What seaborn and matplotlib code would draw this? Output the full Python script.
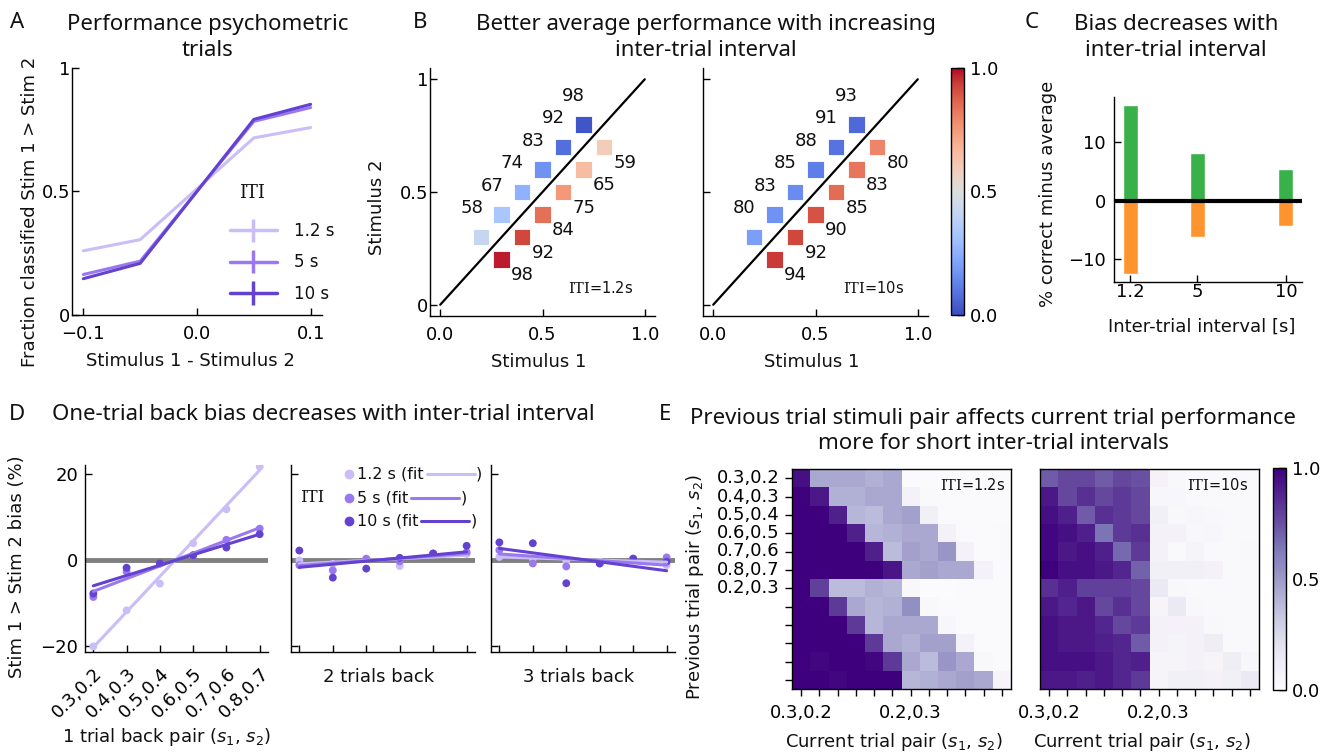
import numpy as np
import pandas as pd
import matplotlib
matplotlib.use("Agg")
import matplotlib.pyplot as plt
import seaborn as sns
from matplotlib.cm import ScalarMappable
from matplotlib.colors import Normalize
from matplotlib.lines import Line2D
from matplotlib.collections import LineCollection
from matplotlib.container import ErrorbarContainer
from matplotlib.legend_handler import HandlerErrorbar

W, H = 1322, 754

# ---------------- data ----------------
iti_names = ["1.2 s", "5 s", "10 s"]
iti_colors = ["#cbbdf7", "#9a78f0", "#6442d0"]

# Panel A: psychometric
psy_x = [-0.1, -0.05, 0.05, 0.1]
psy_12 = [0.260, 0.305, 0.717, 0.759]
psy_5 = [0.164, 0.218, 0.784, 0.840]
psy_10 = [0.147, 0.209, 0.792, 0.853]

# Panel B: stimulus pairs and % correct
stim1 = [0.2, 0.3, 0.4, 0.5, 0.6, 0.7, 0.3, 0.4, 0.5, 0.6, 0.7, 0.8]
stim2 = [0.3, 0.4, 0.5, 0.6, 0.7, 0.8, 0.2, 0.3, 0.4, 0.5, 0.6, 0.7]
pct_correct_12 = [58, 67, 74, 83, 92, 98, 98, 92, 84, 75, 65, 59]
pct_correct_10 = [80, 83, 85, 88, 91, 93, 94, 92, 90, 85, 83, 80]

# Panel C: bias
iti_values = [1.2, 5, 10]
bias_pos = [16.2, 8.1, 5.4]
bias_neg = [-12.4, -6.2, -4.35]

# Panel D: history bias
pair_labels = ["0.3,0.2", "0.4,0.3", "0.5,0.4", "0.6,0.5", "0.7,0.6", "0.8,0.7"]
lag1_12 = [-20.2, -11.8, -5.6, 3.8, 11.7, 21.6]
lag1_5 = [-8.7, -2.8, -0.9, 1.0, 4.6, 7.2]
lag1_10 = [-7.9, -1.9, -0.9, 1.0, 2.8, 5.9]
lag2_12 = [-0.2, -1.0, 0.2, -1.5, 1.4, 1.3]
lag2_5 = [-1.3, -2.5, 0.2, -0.4, 1.4, 1.7]
lag2_10 = [2.1, -4.2, -2.1, 0.4, 1.4, 3.2]
lag3_12 = [0.6, 0.2, -0.3, -0.5, 0.2, -1.3]
lag3_5 = [2.2, -0.9, -1.6, -0.9, 0.2, 0.5]
lag3_10 = [4.0, 3.8, -5.5, -0.9, 0.2, -0.5]
# fitted line values at first and last pair
fit1_12 = [-20.4, 20.8]
fit1_5 = [-7.4, 7.4]
fit1_10 = [-6.1, 5.9]
fit2_12 = [-1.0, 1.0]
fit2_5 = [-1.4, 1.4]
fit2_10 = [-1.8, 1.8]
fit3_12 = [0.6, -0.6]
fit3_5 = [1.3, -1.3]
fit3_10 = [2.6, -2.6]

# Panel E: previous vs current trial performance
cur_pairs = ["0.3,0.2", "0.4,0.3", "0.5,0.4", "0.6,0.5", "0.7,0.6", "0.8,0.7",
             "0.2,0.3", "0.3,0.4", "0.4,0.5", "0.5,0.6", "0.6,0.7", "0.7,0.8"]
heat_12 = [
    [0.95, 0.45, 0.45, 0.45, 0.42, 0.45, 0.02, 0.02, 0.02, 0.02, 0.02, 0.02],
    [1.00, 0.92, 0.42, 0.42, 0.45, 0.45, 0.08, 0.03, 0.02, 0.02, 0.02, 0.02],
    [1.00, 1.00, 0.90, 0.40, 0.38, 0.45, 0.48, 0.10, 0.02, 0.02, 0.02, 0.02],
    [1.00, 1.00, 1.00, 0.90, 0.40, 0.42, 0.45, 0.45, 0.08, 0.02, 0.02, 0.03],
    [1.00, 1.00, 1.00, 1.00, 0.90, 0.38, 0.48, 0.45, 0.52, 0.08, 0.02, 0.03],
    [1.00, 1.00, 1.00, 1.00, 1.00, 0.93, 0.45, 0.48, 0.45, 0.45, 0.08, 0.02],
    [1.00, 0.80, 0.38, 0.38, 0.42, 0.40, 0.04, 0.01, 0.01, 0.02, 0.02, 0.02],
    [1.00, 1.00, 0.82, 0.45, 0.40, 0.42, 0.55, 0.04, 0.02, 0.02, 0.02, 0.02],
    [1.00, 1.00, 1.00, 0.82, 0.40, 0.45, 0.45, 0.45, 0.05, 0.02, 0.02, 0.02],
    [1.00, 1.00, 1.00, 1.00, 0.82, 0.45, 0.42, 0.48, 0.48, 0.08, 0.02, 0.02],
    [1.00, 0.98, 1.00, 1.00, 0.98, 0.82, 0.45, 0.38, 0.52, 0.45, 0.04, 0.02],
    [1.00, 1.00, 0.98, 1.00, 1.00, 1.00, 0.40, 0.42, 0.45, 0.48, 0.45, 0.06],
]
heat_10 = [
    [0.72, 0.78, 0.78, 0.72, 0.78, 0.75, 0.08, 0.04, 0.03, 0.03, 0.03, 0.03],
    [0.92, 0.78, 0.85, 0.78, 0.82, 0.78, 0.05, 0.05, 0.03, 0.03, 0.03, 0.03],
    [0.95, 0.90, 0.72, 0.85, 0.82, 0.78, 0.10, 0.04, 0.05, 0.04, 0.03, 0.03],
    [0.98, 0.95, 0.90, 0.65, 0.82, 0.85, 0.08, 0.08, 0.04, 0.05, 0.03, 0.03],
    [0.98, 0.92, 0.95, 0.90, 0.68, 0.82, 0.08, 0.03, 0.07, 0.03, 0.03, 0.04],
    [1.00, 0.95, 0.95, 0.92, 0.88, 0.70, 0.10, 0.10, 0.10, 0.08, 0.03, 0.03],
    [0.85, 0.90, 0.80, 0.80, 0.80, 0.78, 0.15, 0.04, 0.03, 0.03, 0.03, 0.03],
    [0.92, 0.88, 0.92, 0.78, 0.85, 0.78, 0.06, 0.15, 0.04, 0.03, 0.03, 0.03],
    [0.95, 0.92, 0.92, 0.88, 0.78, 0.82, 0.08, 0.08, 0.08, 0.04, 0.03, 0.03],
    [0.95, 0.92, 0.92, 0.90, 0.88, 0.72, 0.08, 0.07, 0.08, 0.12, 0.03, 0.03],
    [0.95, 0.95, 0.95, 0.92, 0.88, 0.90, 0.06, 0.06, 0.08, 0.06, 0.12, 0.05],
    [0.92, 0.92, 0.90, 0.92, 0.88, 0.82, 0.06, 0.10, 0.10, 0.08, 0.10, 0.15],
]

# ---------------- style ----------------
sns.set_theme(style="ticks")
plt.rcParams.update({
    "font.family": ["DejaVu Sans"],
    "font.size": 13,
    "axes.labelsize": 13,
    "xtick.labelsize": 13,
    "ytick.labelsize": 13,
    "axes.linewidth": 1.0,
    "axes.edgecolor": "black",
    "xtick.color": "black",
    "ytick.color": "black",
    "text.color": "#111111",
    "axes.labelcolor": "#111111",
    "xtick.direction": "in",
    "ytick.direction": "in",
    "xtick.major.size": 5,
    "ytick.major.size": 5,
    "xtick.major.width": 1,
    "ytick.major.width": 1,
    "mathtext.fontset": "custom",
    "mathtext.rm": "DejaVu Serif",
    "mathtext.it": "DejaVu Sans:italic",
    "mathtext.sf": "DejaVu Sans",
    "mathtext.bf": "DejaVu Sans:bold",
})

fig = plt.figure(figsize=(W / 100, H / 100), dpi=100)
TITLE = dict(family=["Noto Sans", "DejaVu Sans"], fontsize=16, color="#111111")


def box(l, t, r, b):
    return [l / W, 1 - b / H, (r - l) / W, (b - t) / H]


def add_ax(l, t, r, b):
    ax = fig.add_axes(box(l, t, r, b))
    ax._px = (l, t, r, b)
    return ax


def ylab(ax, text, px_right, py_center):
    l, t, r, b = ax._px
    ax.set_ylabel(text)
    ax.yaxis.set_label_coords((px_right - l) / (r - l), (b - py_center) / (b - t))


def xlab(ax, text, px_center, py_top):
    l, t, r, b = ax._px
    ax.set_xlabel(text)
    ax.xaxis.set_label_coords((px_center - l) / (r - l), (b - py_top) / (b - t))


def ftext(px, py, s, **kw):
    return fig.text(px / W, 1 - py / H, s, **kw)


pair_math = r"($s_\mathsf{1}$, $s_\mathsf{2}$)"

# ---------------- Panel A ----------------
axA = add_ax(72, 68, 322, 315)
dfA = pd.DataFrame({
    "diff": psy_x * 3,
    "frac": psy_12 + psy_5 + psy_10,
    "ITI": [iti_names[0]] * 4 + [iti_names[1]] * 4 + [iti_names[2]] * 4,
})
sns.lineplot(data=dfA, x="diff", y="frac", hue="ITI", palette=iti_colors,
             lw=2.2, legend=False, ax=axA)
axA.set_ylim(0, 1)
axA.set_xticks([-0.1, 0.0, 0.1])
axA.set_xticklabels(["\u22120.1", "0.0", "0.1"])
axA.set_yticks([0, 0.5, 1])
axA.set_yticklabels(["0", "0.5", "1"])
axA.tick_params(axis="x", pad=7)
axA.tick_params(axis="y", pad=1.5)
sns.despine(ax=axA)
ylab(axA, "Fraction classified Stim 1 > Stim 2", 39, 212)
xlab(axA, "Stimulus 1 - Stimulus 2", 190, 352)
handles = []
for c in iti_colors:
    ln = Line2D([], [], color=c, lw=2.5)
    bar = LineCollection([], colors=c, linewidths=2.5)
    handles.append(ErrorbarContainer((ln, (), (bar,)), has_xerr=False, has_yerr=True))
legA = axA.legend(handles, iti_names, loc="upper left",
                  bbox_to_anchor=(230 / W, 1 - 222 / H), bbox_transform=fig.transFigure,
                  frameon=False, fontsize=12, borderpad=0, borderaxespad=0,
                  handlelength=2.8, handletextpad=1.05, labelspacing=0.8,
                  handler_map={ErrorbarContainer: HandlerErrorbar(yerr_size=0.7)})
ftext(252, 193, "ITI", family="DejaVu Serif", fontsize=13, ha="center", va="center")

# ---------------- Panel B ----------------
def panel_b(ax, pct, iti_label, show_y):
    frac_s1 = [p / 100 if a > b else 1 - p / 100 for p, a, b in zip(pct, stim1, stim2)]
    dfB = pd.DataFrame({"s1": stim1, "s2": stim2, "frac": frac_s1, "pct": pct})
    ax.plot([0, 1], [0, 1], color="black", lw=1.6, zorder=1)
    sns.scatterplot(data=dfB, x="s1", y="s2", hue="frac", palette="coolwarm",
                    hue_norm=(0, 1), marker="s", s=140, edgecolor="white",
                    linewidth=0.6, legend=False, ax=ax, zorder=3)
    for a, b, p in zip(stim1, stim2, pct):
        if b > a:
            ax.text(a - 0.047, b + 0.128, str(p), ha="center", va="center", fontsize=13)
        else:
            ax.text(a + 0.102, b - 0.07, str(p), ha="center", va="center", fontsize=13)
    ax.text(0.945 if show_y else 0.935, 0.075, iti_label, ha="right", va="center", fontsize=10.5)
    ax.set_xlim(-0.05, 1.05)
    ax.set_ylim(-0.05, 1.05)
    ax.set_xticks([0, 0.5, 1])
    ax.set_xticklabels(["0.0", "0.5", "1.0"])
    ax.set_yticks([0, 0.5, 1])
    ax.set_yticklabels(["0", "0.5", "1"] if show_y else [])
    ax.tick_params(axis="x", pad=7)
    ax.tick_params(axis="y", pad=1.5)
    sns.despine(ax=ax)


axB1 = add_ax(430, 68, 655, 316)
panel_b(axB1, pct_correct_12, r"$\mathrm{ITI}$=1.2s", True)
ylab(axB1, "Stimulus 2", 386, 207)
xlab(axB1, "Stimulus 1", 539, 353)
axB2 = add_ax(703, 68, 928, 316)
panel_b(axB2, pct_correct_10, r"$\mathrm{ITI}$=10s", False)
axB2.set_ylabel("")
xlab(axB2, "Stimulus 1", 812, 353)
caxB = add_ax(951, 68, 964, 315)
cbB = fig.colorbar(ScalarMappable(norm=Normalize(0, 1), cmap="coolwarm"), cax=caxB)
cbB.set_ticks([0, 0.5, 1])
cbB.set_ticklabels(["0.0", "0.5", "1.0"])
caxB.tick_params(direction="in", length=5, pad=4)
cbB.outline.set_linewidth(1)

# ---------------- Panel C ----------------
axC = add_ax(1114, 97, 1302, 282)
sns.barplot(x=iti_values, y=bias_pos, native_scale=True, color="#39b14b",
            saturation=1, width=0.85 / 3.8, errorbar=None, ax=axC)
sns.barplot(x=iti_values, y=bias_neg, native_scale=True, color="#ff942f",
            saturation=1, width=0.85 / 3.8, errorbar=None, ax=axC)
axC.axhline(0, color="black", lw=3, zorder=5)
axC.set_xticks(iti_values)
axC.set_xticklabels(["1.2", "5", "10"])
axC.set_yticks([-10, 0, 10])
axC.tick_params(axis="x", pad=1)
axC.tick_params(axis="y", pad=6)
sns.despine(ax=axC)
ylab(axC, "% correct minus average", 1057, 194)
xlab(axC, "Inter-trial interval [s]", 1202, 318)

# ---------------- Panel D ----------------
pos = np.arange(len(pair_labels))
lags = [
    (add_ax(85, 465, 268, 652), [lag1_12, lag1_5, lag1_10], [fit1_12, fit1_5, fit1_10]),
    (add_ax(291, 465, 475, 652), [lag2_12, lag2_5, lag2_10], [fit2_12, fit2_5, fit2_10]),
    (add_ax(491, 465, 675, 652), [lag3_12, lag3_5, lag3_10], [fit3_12, fit3_5, fit3_10]),
]
for i, (ax, pts, fits) in enumerate(lags):
    ax.axhline(0, color="#808080", lw=3.5, zorder=1)
    dfD = pd.DataFrame({
        "pair": np.concatenate([pos] * 3),
        "bias": np.concatenate(pts),
        "ITI": np.repeat(iti_names, len(pos)),
    })
    sns.scatterplot(data=dfD, x="pair", y="bias", hue="ITI", palette=iti_colors,
                    s=32, linewidth=0, legend=False, ax=ax, zorder=3)
    dfF = pd.DataFrame({
        "pair": np.concatenate([pos[[0, -1]]] * 3),
        "bias": np.concatenate(fits),
        "ITI": np.repeat(iti_names, 2),
    })
    sns.lineplot(data=dfF, x="pair", y="bias", hue="ITI", palette=iti_colors,
                 lw=2.2, legend=False, ax=ax, zorder=4)
    ax.set_xlim(-0.25, 5.25)
    ax.set_ylim(-21.5, 22)
    ax.set_xticks(pos)
    ax.set_yticks([-20, 0, 20])
    ax.tick_params(axis="y", pad=5)
    sns.despine(ax=ax)
    if i == 0:
        ax.set_xticklabels(pair_labels, rotation=45, ha="right", rotation_mode="anchor")
        ax.tick_params(axis="x", pad=9)
    else:
        ax.set_xticklabels([])
        ax.set_yticklabels([])
axD1, axD2, axD3 = [l[0] for l in lags]
ylab(axD1, "Stim 1 > Stim 2 bias (%)", 26, 567)
xlab(axD1, "1 trial back pair " + pair_math, 167, 726)
xlab(axD2, "2 trials back", 379, 668)
axD2.set_ylabel("")
xlab(axD3, "3 trials back", 579, 668)
axD3.set_ylabel("")

# ---------------- Panel E ----------------
xt_show = [lab if j in (0, 6) else "" for j, lab in enumerate(cur_pairs)]
yt_show = [lab if j < 7 else "" for j, lab in enumerate(cur_pairs)]
axE1 = add_ax(792, 469, 1011, 689)
axE2 = add_ax(1040, 469, 1259, 689)
caxE = add_ax(1273, 468, 1286, 690)
sns.heatmap(pd.DataFrame(heat_12, index=cur_pairs, columns=cur_pairs), cmap="Purples",
            vmin=0, vmax=1, cbar=False, xticklabels=xt_show, yticklabels=yt_show, ax=axE1)
sns.heatmap(pd.DataFrame(heat_10, index=cur_pairs, columns=cur_pairs), cmap="Purples",
            vmin=0, vmax=1, cbar=True, cbar_ax=caxE, xticklabels=xt_show,
            yticklabels=False, ax=axE2)
for ax, lab in ((axE1, r"$\mathrm{ITI}$=1.2s"), (axE2, r"$\mathrm{ITI}$=10s")):
    for sp in ax.spines.values():
        sp.set_visible(True)
        sp.set_linewidth(1)
        sp.set_color("black")
    ax.tick_params(direction="out", length=5, width=1)
    ax.tick_params(axis="x", pad=6)
    ax.tick_params(axis="y", pad=4)
    plt.setp(ax.get_xticklabels(), rotation=0)
    plt.setp(ax.get_yticklabels(), rotation=0)
    ax.text(0.972 if ax is axE1 else 0.95, 0.965, lab, transform=ax.transAxes,
            ha="right", va="top", fontsize=10.5)
ylab(axE1, "Previous trial pair " + pair_math, 706, 587)
xlab(axE1, "Current trial pair " + pair_math, 894, 731)
axE2.set_ylabel("")
xlab(axE2, "Current trial pair " + pair_math, 1142, 731)
cbE = axE2.collections[0].colorbar
cbE.set_ticks([0, 0.5, 1])
cbE.set_ticklabels(["0.0", "0.5", "1.0"])
caxE.tick_params(direction="in", length=5, pad=4, labelsize=13)
cbE.outline.set_visible(True)
cbE.outline.set_linewidth(1)
cbE.outline.set_edgecolor("black")

# ---------------- titles & panel letters ----------------
ftext(17, 23, "A", ha="center", va="center", **TITLE)
ftext(208, 37.5, "Performance psychometric\ntrials", ha="center", va="center",
      multialignment="center", linespacing=1.3, **TITLE)
ftext(420, 23, "B", ha="center", va="center", **TITLE)
ftext(706, 37.5, "Better average performance with increasing\ninter-trial interval",
      ha="center", va="center", multialignment="center", linespacing=1.3, **TITLE)
ftext(1032, 23, "C", ha="center", va="center", **TITLE)
ftext(1176, 37.5, "Bias decreases with\ninter-trial interval", ha="center", va="center",
      multialignment="center", linespacing=1.3, **TITLE)
ftext(17, 415, "D", ha="center", va="center", **TITLE)
ftext(323, 415, "One-trial back bias decreases with inter-trial interval",
      ha="center", va="center", **TITLE)
ftext(665, 415, "E", ha="center", va="center", **TITLE)
ftext(993, 431, "Previous trial stimuli pair affects current trial performance\n"
      "more for short inter-trial intervals", ha="center", va="center",
      multialignment="center", linespacing=1.3, **TITLE)

# ---------------- Panel D custom legend ----------------
fig.canvas.draw()
renderer = fig.canvas.get_renderer()
rows_y = [474, 497.7, 521.3]
for yy, name, c in zip(rows_y, iti_names, iti_colors):
    fig.add_artist(Line2D([349 / W], [1 - yy / H], marker="o", ms=6, color=c, lw=0,
                          transform=fig.transFigure))
    t = ftext(357, yy, name + " (fit", ha="left", va="center", fontsize=11.5)
    bb = t.get_window_extent(renderer)
    x0 = bb.x1 + 3
    x1 = x0 + 48
    fig.add_artist(Line2D([x0 / W, x1 / W], [1 - yy / H] * 2, color=c, lw=2.2,
                          transform=fig.transFigure))
    ftext(x1 + 1.5, yy, ")", ha="left", va="center", fontsize=11.5)
ftext(312, 497.7, "ITI", family="DejaVu Serif", fontsize=12, ha="center", va="center")

fig.savefig("out.png", dpi=100)
